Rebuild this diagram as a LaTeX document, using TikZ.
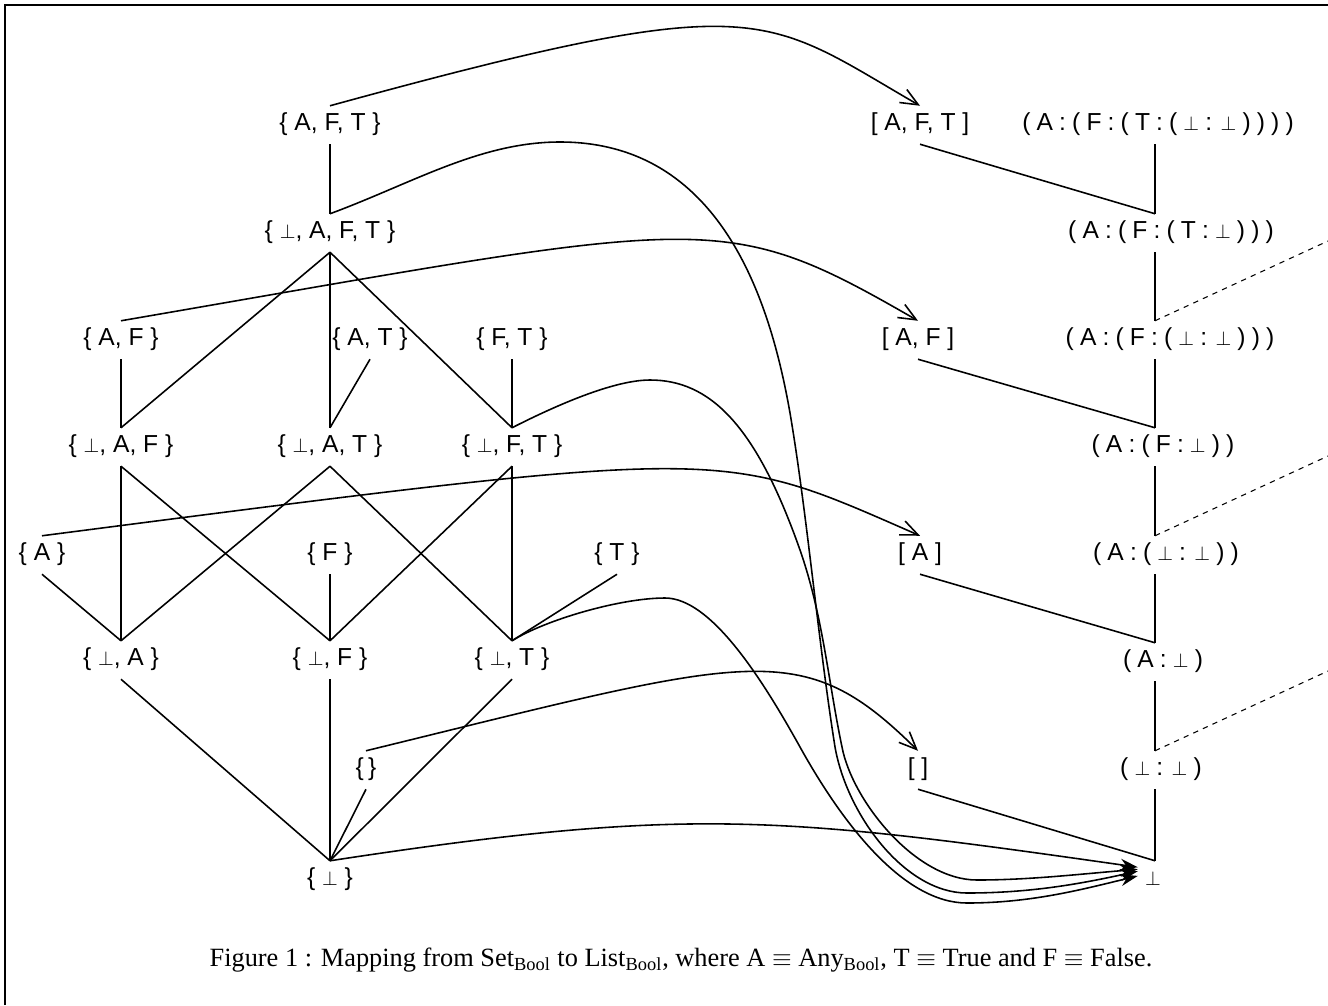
\documentclass[tikz,border=0pt]{standalone}
\usepackage{fontspec}
\usepackage{graphicx}
\setmainfont{Liberation Serif}
\setsansfont{Liberation Sans}
\usetikzlibrary{arrows.meta}
\newcommand{\bt}{\scalebox{0.8}{$\bot$}}
\newcommand{\tightsp}{\spaceskip=3.5pt\relax}
\tikzset{
  setnd/.style={font=\sffamily\fontsize{14}{17}\selectfont,inner sep=4pt,text height=10pt,text depth=3.5pt},
  lstnd/.style={setnd},
  consnd/.style={setnd,execute at begin node=\tightsp},
  edg/.style={line width=0.9pt},
  arr/.style={edg,-{Straight Barb[length=3.5mm,width=3mm]}},
  botarr/.style={edg,-{Stealth[length=3.5mm,width=2.4mm]}},
  dsh/.style={line width=0.6pt,dash pattern=on 3pt off 3pt},
  capt/.style={font=\rmfamily\fontsize{15}{18}\selectfont}
}
\begin{document}
\begin{tikzpicture}[x=0.02cm,y=-0.02cm]
  \useasboundingbox (0,0) rectangle (1328,1005);
  \draw[line width=0.8pt] (5,1005) -- (5,5) -- (1328,5);

  % Set_Bool lattice
  \node[setnd] (saft)  at (330,125) {\{ A, F, T \}};
  \node[setnd] (sbaft) at (330,233) {\{ \bt{}, A, F, T \}};
  \node[setnd] (saf)   at (121,340) {\{ A, F \}};
  \node[setnd] (sat)   at (370,340) {\{ A, T \}};
  \node[setnd] (sft)   at (512,340) {\{ F, T \}};
  \node[setnd] (sbaf)  at (121,447) {\{ \bt{}, A, F \}};
  \node[setnd] (sbat)  at (330,447) {\{ \bt{}, A, T \}};
  \node[setnd] (sbft)  at (512,447) {\{ \bt{}, F, T \}};
  \node[setnd] (sa)    at (42,555)  {\{ A \}};
  \node[setnd] (sf)    at (330,555) {\{ F \}};
  \node[setnd] (st)    at (617,555) {\{ T \}};
  \node[setnd] (sba)   at (121,660) {\{ \bt{}, A \}};
  \node[setnd] (sbf)   at (330,660) {\{ \bt{}, F \}};
  \node[setnd] (sbt)   at (512,660) {\{ \bt{}, T \}};
  \node[setnd] (se)    at (366,770) {\{\,\}};
  \node[setnd] (sb)    at (330,880) {\{ \bt{} \}};

  \foreach \u/\v in {saft/sbaft,sbaft/sbaf,sbaft/sbat,sbaft/sbft,saf/sbaf,sat/sbat,sft/sbft,
                     sbaf/sba,sbaf/sbf,sbat/sba,sbat/sbt,sbft/sbf,sbft/sbt,sa/sba,sf/sbf,st/sbt,
                     sba/sb,sbf/sb,sbt/sb,se/sb}
    \draw[edg] (\u.south) -- (\v.north);

  % List_Bool
  \node[lstnd] (laft) at (920,125) {[ A, F, T ]};
  \node[lstnd] (laf)  at (918,340) {[ A, F ]};
  \node[lstnd] (la)   at (920,555) {[ A ]};
  \node[lstnd] (le)   at (918,770) {[ ]};

  \node[consnd] (c1) at (1158,125) {( A : ( F : ( T : ( \bt{} : \bt{} ) ) ) )};
  \node[consnd] (c2) at (1171,233) {( A : ( F : ( T : \bt{} ) ) )};
  \node[consnd] (c3) at (1170,340) {( A : ( F : ( \bt{} : \bt{} ) ) )};
  \node[consnd] (c4) at (1163,447) {( A : ( F : \bt{} ) )};
  \node[consnd] (c5) at (1166,555) {( A : ( \bt{} : \bt{} ) )};
  \node[consnd] (c6) at (1163,662) {( A : \bt{} )};
  \node[consnd] (c7) at (1161,770) {( \bt{} : \bt{} )};
  \node[consnd] (c8) at (1153,880) {\bt};

  \coordinate (spn) at (1155,0);
  \foreach \u/\v in {c1/c2,c2/c3,c3/c4,c4/c5,c5/c6,c6/c7,c7/c8}
    \draw[edg] (\u.south -| spn) -- (\v.north -| spn);

  \draw[edg] (laft.south) -- (c2.north -| spn);
  \draw[edg] (laf.south) -- (c4.north -| spn);
  \draw[edg] (la.south) -- (c6.north -| spn);
  \draw[edg] (le.south) -- (c8.north -| spn);

  \coordinate (d1) at (1328,241);
  \coordinate (d2) at (1328,456);
  \coordinate (d3) at (1328,671);
  \draw[dsh] (c3.north -| spn) -- (d1);
  \draw[dsh] (c5.north -| spn) -- (d2);
  \draw[dsh] (c7.north -| spn) -- (d3);

  % mapping
  \draw[arr] (saft.north) .. controls (763,-13) and (761,14) .. (laft.north);
  \draw[arr] (saf.north) .. controls (712,219) and (719,206) .. (laf.north);
  \draw[arr] (sa.north) .. controls (736,446) and (717,447) .. (la.north);
  \draw[arr] (se.north) .. controls (754,656) and (801,635) .. (le.north);

  \draw[botarr] (sb.north) .. controls (688,806) and (779,816) .. (c8.140);
  \draw[botarr] (sbaft.north) .. controls (413,183) and (480,142) .. (560,142)
    .. controls (720,142) and (770,299) .. (790,413)
    .. controls (807,513) and (818,640) .. (835,747)
    .. controls (847,815) and (905,893) .. (967,893)
    .. controls (1030,893) and (1080,884) .. (c8.150);
  \draw[botarr] (sbft.north) .. controls (545,411) and (610,380) .. (650,380)
    .. controls (710,380) and (756,425) .. (800,550)
    .. controls (823,616) and (828,680) .. (842,747)
    .. controls (852,800) and (915,880) .. (977,880)
    .. controls (1030,880) and (1080,874) .. (c8.145);
  \draw[botarr] (sbt.north) .. controls (545,620) and (620,598) .. (665,598)
    .. controls (710,598) and (760,675) .. (800,747)
    .. controls (845,828) and (905,903) .. (967,903)
    .. controls (1030,903) and (1080,890) .. (c8.165);

  \node[capt] (cap) at (681,960) {Figure 1 : Mapping from Set\textsubscript{Bool} to List\textsubscript{Bool}, where A $\equiv$ Any\textsubscript{Bool}, T $\equiv$ True and F $\equiv$ False.};
\end{tikzpicture}
\end{document}
